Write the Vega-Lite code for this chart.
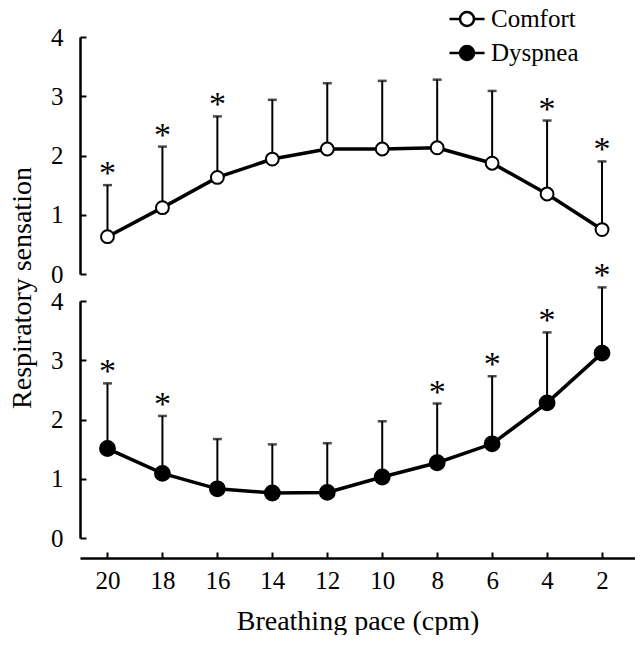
{
  "$schema": "https://vega.github.io/schema/vega-lite/v6.json",
  "background": "white",
  "padding": {"left": 8, "top": 0, "right": 0, "bottom": 0},
  "bounds": "flush",
  "config": {
    "font": "Liberation Serif",
    "view": {"stroke": null},
    "axis": {
      "grid": false,
      "domainColor": "black",
      "domainWidth": 2.5,
      "tickColor": "black",
      "tickWidth": 2,
      "tickSize": -6,
      "labelColor": "black",
      "labelFont": "Liberation Serif",
      "labelFontSize": 25,
      "titleColor": "black",
      "titleFont": "Liberation Serif",
      "titleFontSize": 28,
      "titleFontWeight": "normal"
    },
    "legend": {"padding": 0}
  },
  "data": {
    "values": [
      {"pace": 20, "measure": "Comfort", "mean": 0.63, "upper": 1.50, "sig": "*"},
      {"pace": 18, "measure": "Comfort", "mean": 1.12, "upper": 2.15, "sig": "*"},
      {"pace": 16, "measure": "Comfort", "mean": 1.63, "upper": 2.66, "sig": "*"},
      {"pace": 14, "measure": "Comfort", "mean": 1.94, "upper": 2.94, "sig": ""},
      {"pace": 12, "measure": "Comfort", "mean": 2.11, "upper": 3.22, "sig": ""},
      {"pace": 10, "measure": "Comfort", "mean": 2.11, "upper": 3.26, "sig": ""},
      {"pace": 8, "measure": "Comfort", "mean": 2.13, "upper": 3.28, "sig": ""},
      {"pace": 6, "measure": "Comfort", "mean": 1.87, "upper": 3.09, "sig": ""},
      {"pace": 4, "measure": "Comfort", "mean": 1.35, "upper": 2.59, "sig": "*"},
      {"pace": 2, "measure": "Comfort", "mean": 0.75, "upper": 1.90, "sig": "*"},
      {"pace": 20, "measure": "Dyspnea", "mean": 1.51, "upper": 2.61, "sig": "*"},
      {"pace": 18, "measure": "Dyspnea", "mean": 1.09, "upper": 2.06, "sig": "*"},
      {"pace": 16, "measure": "Dyspnea", "mean": 0.83, "upper": 1.67, "sig": ""},
      {"pace": 14, "measure": "Dyspnea", "mean": 0.76, "upper": 1.58, "sig": ""},
      {"pace": 12, "measure": "Dyspnea", "mean": 0.77, "upper": 1.60, "sig": ""},
      {"pace": 10, "measure": "Dyspnea", "mean": 1.03, "upper": 1.97, "sig": ""},
      {"pace": 8, "measure": "Dyspnea", "mean": 1.27, "upper": 2.27, "sig": "*"},
      {"pace": 6, "measure": "Dyspnea", "mean": 1.59, "upper": 2.73, "sig": "*"},
      {"pace": 4, "measure": "Dyspnea", "mean": 2.28, "upper": 3.47, "sig": "*"},
      {"pace": 2, "measure": "Dyspnea", "mean": 3.12, "upper": 4.23, "sig": "*"}
    ]
  },
  "facet": {
    "row": {
      "field": "measure",
      "type": "nominal",
      "sort": ["Comfort", "Dyspnea"],
      "header": {
        "title": "Respiratory sensation",
        "labels": false,
        "titleFont": "Liberation Serif",
        "titleFontSize": 28,
        "titleFontWeight": "normal",
        "titleColor": "black",
        "titlePadding": 3
      }
    }
  },
  "spacing": 27,
  "spec": {
    "width": 555,
    "height": 237,
    "encoding": {
      "x": {
        "field": "pace",
        "type": "quantitative",
        "scale": {"domain": [0.8, 21], "reverse": true, "nice": false, "zero": false},
        "axis": {
          "values": [20, 18, 16, 14, 12, 10, 8, 6, 4, 2],
          "offset": 20,
          "labelPadding": 16,
          "titlePadding": 14,
          "title": "Breathing pace (cpm)"
        }
      }
    },
    "layer": [
      {
        "mark": {"type": "rule", "color": "black", "strokeWidth": 2},
        "encoding": {
          "y": {"field": "mean", "type": "quantitative", "scale": {"domain": [0, 4], "nice": false},
                "axis": {"values": [0, 1, 2, 3, 4], "format": "d", "title": null, "labelPadding": 23}},
          "y2": {"field": "upper"}
        }
      },
      {
        "mark": {"type": "tick", "orient": "horizontal", "color": "black", "thickness": 2.5, "size": 9},
        "encoding": {"y": {"field": "upper", "type": "quantitative"}}
      },
      {
        "mark": {"type": "line", "color": "black", "strokeWidth": 3.5},
        "encoding": {"y": {"field": "mean", "type": "quantitative"}}
      },
      {
        "mark": {"type": "point", "filled": true, "stroke": "black", "strokeWidth": 2, "opacity": 1},
        "encoding": {
          "y": {"field": "mean", "type": "quantitative"},
          "fill": {
            "field": "measure",
            "type": "nominal",
            "scale": {"domain": ["Comfort", "Dyspnea"], "range": ["white", "black"]},
            "legend": {
              "title": null,
              "orient": "none",
              "legendX": 368,
              "legendY": -37,
              "symbolType": "M-1,0L-0.4,0M0.4,0L1,0M-0.4,0A0.4,0.4,0,1,0,0.4,0A0.4,0.4,0,1,0,-0.4,0Z",
              "symbolSize": 1225,
              "symbolStrokeColor": "black",
              "symbolStrokeWidth": 2.5,
              "labelFont": "Liberation Serif",
              "labelFontSize": 25,
              "labelColor": "black",
              "labelOffset": 5,
              "rowPadding": 2
            }
          },
          "size": {"condition": {"test": "datum.measure === 'Dyspnea'", "value": 220}, "value": 165}
        }
      },
      {
        "mark": {"type": "text", "color": "black", "fontSize": 34, "baseline": "alphabetic", "dy": -1, "font": "Liberation Serif"},
        "encoding": {
          "y": {"field": "upper", "type": "quantitative"},
          "text": {"field": "sig"}
        }
      }
    ]
  }
}
